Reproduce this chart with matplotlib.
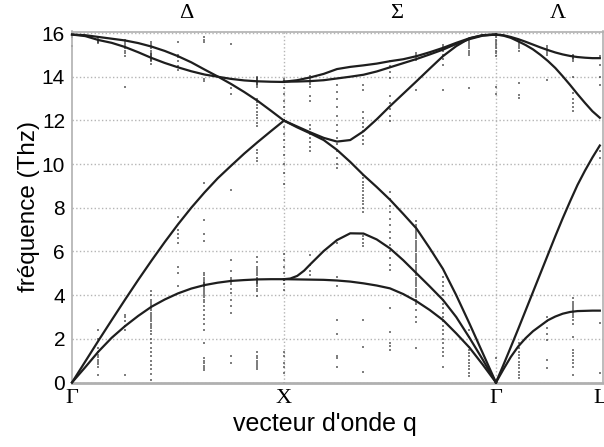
import matplotlib
matplotlib.use("Agg")
import matplotlib.pyplot as plt

# path positions (reduced units, Gamma-X-Gamma-L)
sym_pos = [0.0, 1.0, 2.0, 2.49]
sym_labels = ["Γ", "X", "Γ", "L"]
dir_pos = [0.54, 1.53, 2.29]
dir_labels = ["Δ", "Σ", "Λ"]

# Delta branch (Gamma -> X)
d_q = [0, 0.0625, 0.125, 0.1875, 0.25, 0.3125, 0.375, 0.4375, 0.5,
       0.5625, 0.625, 0.6875, 0.75, 0.8125, 0.875, 0.9375, 1.0]
d_ta = [0, 0.7, 1.42, 2.05, 2.58, 3.05, 3.47, 3.8, 4.08,
        4.3, 4.46, 4.57, 4.65, 4.69, 4.72, 4.73, 4.73]
d_la = [0, 0.96, 1.92, 2.86, 3.79, 4.7, 5.58, 6.43, 7.24,
        8.0, 8.7, 9.35, 9.92, 10.48, 11.0, 11.5, 11.99]
d_lo = [15.93, 15.9, 15.82, 15.74, 15.66, 15.54, 15.38, 15.18, 14.94,
        14.66, 14.33, 14.01, 13.67, 13.3, 12.9, 12.45, 11.99]
d_to = [15.93, 15.86, 15.68, 15.55, 15.36, 15.12, 14.86, 14.63, 14.43,
        14.25, 14.1, 14.0, 13.9, 13.83, 13.79, 13.77, 13.76]

# Sigma branch (X -> Gamma)
s_q = [1.0, 1.0625, 1.125, 1.1875, 1.25, 1.3125, 1.375, 1.4375, 1.5,
       1.5625, 1.625, 1.6875, 1.75, 1.8125, 1.875, 1.9375, 2.0]
s_ta1 = [4.73, 4.72, 4.71, 4.7, 4.67, 4.62, 4.54, 4.44, 4.31,
         4.05, 3.72, 3.32, 2.86, 2.25, 1.6, 0.82, 0]
s_ta2_q = [1.0, 1.03, 1.0625, 1.095, 1.125, 1.1875, 1.25, 1.3125, 1.375,
           1.4375, 1.5, 1.5625, 1.625, 1.6875, 1.75, 1.8125, 1.875,
           1.9375, 2.0]
s_ta2 = [4.73, 4.76, 4.88, 5.12, 5.42, 6.02, 6.52, 6.83, 6.82,
         6.55, 6.14, 5.6, 5.0, 4.4, 3.78, 3.0, 2.05, 1.05, 0]
s_la = [11.99, 11.68, 11.4, 11.1, 10.65, 10.1, 9.5, 8.95, 8.37,
        7.72, 7.05, 6.15, 5.2, 4.0, 2.7, 1.35, 0]
s_op = [11.99, 11.72, 11.45, 11.2, 11.03, 11.1, 11.5, 12.05, 12.65,
        13.22, 13.79, 14.37, 14.94, 15.4, 15.76, 15.9, 15.93]
s_to1 = [13.77, 13.84, 13.97, 14.13, 14.35, 14.45, 14.52, 14.6, 14.71,
         14.8, 14.94, 15.12, 15.32, 15.55, 15.76, 15.9, 15.93]
s_to2 = [13.77, 13.78, 13.8, 13.84, 13.92, 14.0, 14.09, 14.24, 14.43,
         14.62, 14.81, 15.02, 15.24, 15.5, 15.72, 15.88, 15.93]

# Lambda branch (Gamma -> L)
l_q = [2.0, 2.035, 2.07, 2.105, 2.14, 2.175, 2.21, 2.245, 2.28,
       2.315, 2.35, 2.385, 2.42, 2.455, 2.49]
l_ta = [0, 0.6, 1.17, 1.65, 2.03, 2.35, 2.6, 2.85, 3.02,
        3.15, 3.23, 3.27, 3.28, 3.29, 3.29]
l_la = [0, 0.8, 1.62, 2.45, 3.3, 4.15, 5.0, 5.85, 6.7,
        7.52, 8.3, 9.05, 9.7, 10.3, 10.85]
l_lo = [15.93, 15.88, 15.78, 15.62, 15.45, 15.25, 15.0, 14.72, 14.4,
        14.02, 13.62, 13.2, 12.8, 12.42, 12.12]
l_to = [15.93, 15.9, 15.82, 15.72, 15.6, 15.47, 15.34, 15.22, 15.11,
        15.02, 14.95, 14.9, 14.87, 14.85, 14.85]

# measured peaks (scan positions and frequencies found there)
scan_q = [0.0, 0.125, 0.25, 0.375, 0.5, 0.625, 0.75, 0.875, 1.0,
          1.125, 1.25, 1.375, 1.5, 1.625, 1.75, 1.875, 2.0,
          2.11, 2.24, 2.365, 2.49]
scan_f = [
    [15.4, 15.8],
    [0.35, 0.7, 0.85, 0.95, 1.05, 1.15, 1.25, 1.4, 1.6, 2.0, 2.4,
     15.55, 15.6, 15.65, 15.7, 15.75],
    [0.35, 2.4, 2.6, 2.8, 3.0, 3.1, 13.55,
     14.95, 15.1, 15.2, 15.3, 15.4, 15.5, 15.6, 15.7],
    [0.1, 0.4, 0.6, 0.8, 1.0, 1.2, 1.4, 1.6, 1.8, 2.0, 2.2, 2.35, 2.5, 2.6,
     2.7, 2.8, 2.9, 3.0, 3.1, 3.2, 3.3, 3.4, 3.5, 3.6, 3.7, 3.8, 4.0, 4.2,
     14.6, 14.7, 14.75, 14.8, 14.85, 14.9, 14.95, 15.0, 15.05, 15.1, 15.2,
     15.3, 15.4, 15.5, 15.6],
    [4.4, 5.0, 5.3, 6.4, 6.6, 6.8, 7.0, 7.6, 14.3, 14.5, 14.7, 14.9, 15.0, 15.6],
    [0.55, 0.65, 0.75, 0.9, 1.0, 1.1, 1.8, 2.4, 2.7, 2.9, 3.1, 3.3, 3.5,
     3.7, 3.8, 3.9, 4.0, 4.1, 4.2, 4.3, 4.35, 4.4, 4.45, 4.5, 4.55, 4.6,
     4.7, 4.8, 4.9, 5.0, 6.5, 6.8, 7.44, 9.12, 13.8, 13.9, 15.6, 15.7, 15.8],
    [0.9, 1.2, 3.2, 3.5, 3.8, 4.1, 4.3, 4.5, 4.6, 4.7, 4.8, 5.1, 5.6, 8.8,
     13.2, 13.5, 15.5],
    [0.6, 0.7, 0.8, 0.9, 1.0, 1.1, 1.2, 1.4, 3.95, 4.2, 4.3, 4.4, 4.5,
     4.55, 4.6, 4.65, 4.7, 4.75, 4.8, 4.9, 5.0, 5.1, 5.2, 5.3, 5.5, 5.75,
     10.15, 10.3, 10.5, 10.65, 11.75, 11.9, 12.1, 12.25, 12.4, 12.55, 12.7,
     12.85, 13.0, 13.55, 13.6, 13.65, 13.7, 13.75, 13.8, 13.85, 13.9, 13.95,
     14.0],
    [0.0, 0.45, 0.7, 0.9, 1.2, 1.4, 4.25, 4.5, 4.7, 5.0, 5.3, 5.6, 5.9,
     9.1, 9.6, 10.0, 10.4, 10.8, 11.1, 11.4, 11.7, 12.0, 12.3, 12.6, 12.9,
     13.2, 13.5, 13.8, 13.9],
    [4.9, 5.1, 5.4, 5.85, 10.6, 10.8, 11.0, 11.2, 11.4, 11.6, 11.8, 12.9,
     13.1, 13.55, 13.65, 13.75, 13.85, 13.95, 14.05],
    [0.72, 1.1, 1.2, 2.2, 2.86, 4.4, 4.85, 6.4, 9.8, 10.0, 10.3, 10.6,
     10.9, 11.2, 11.5, 11.8, 12.2, 12.6, 13.0, 13.3, 13.6],
    [0.5, 1.64, 2.86, 6.25, 6.4, 6.55, 6.7, 7.8, 8.0, 8.15, 8.3, 8.45, 8.6,
     8.75, 8.9, 9.05, 9.2, 9.35, 9.5, 10.9, 11.1, 11.3, 11.5, 11.7, 11.9,
     12.1, 12.4, 13.4, 13.6],
    [1.5, 1.65, 1.8, 2.33, 3.4, 5.15, 5.4, 5.7, 6.0, 6.3, 6.6, 6.9, 7.2,
     7.5, 7.8, 8.1, 8.4, 8.7, 11.95, 12.2, 12.5, 12.8, 13.1, 13.95, 14.2,
     14.5, 14.7],
    [1.58, 2.75, 3.0, 3.3, 3.6, 3.7, 3.8, 3.9, 4.0, 4.1, 4.2, 4.3, 4.4, 4.5,
     4.6, 4.7, 4.8, 4.9, 5.0, 5.1, 5.2, 5.3, 5.4, 5.5, 5.6, 5.7, 5.8, 5.9,
     6.0, 6.1, 6.2, 6.3, 6.4, 6.5, 6.6, 6.7, 6.8, 6.9, 7.0, 7.1, 7.2, 7.4,
     13.4, 14.78, 14.9, 15.0, 15.09],
    [0.72, 1.2, 1.4, 1.6, 1.8, 2.0, 2.2, 2.4, 2.6, 2.8, 3.0, 3.2, 3.4, 3.6,
     3.8, 4.0, 4.2, 4.4, 4.6, 4.84, 13.4, 14.55, 14.8, 15.0, 15.2, 15.35,
     15.47],
    [0.3, 0.45, 0.6, 0.75, 0.9, 1.05, 1.2, 1.35, 1.5, 1.64, 2.1, 2.4, 13.5,
     15.0, 15.1, 15.2, 15.3, 15.4, 15.5, 15.6, 15.7],
    [1.1, 13.2, 13.55, 14.95, 15.1, 15.2, 15.3, 15.4, 15.5, 15.6, 15.7,
     15.8, 15.9],
    [0.2, 0.35, 0.5, 0.65, 0.8, 0.95, 1.1, 1.25, 1.4, 1.6, 1.8, 13.02,
     13.18, 13.7, 15.2, 15.3, 15.4, 15.5, 15.6, 15.7],
    [0.66, 1.03, 1.95, 2.2, 2.5, 2.8, 3.0, 13.86, 15.0, 15.1, 15.2, 15.3,
     15.4],
    [0.34, 0.72, 0.9, 1.05, 1.2, 1.35, 1.49, 2.1, 2.7, 2.85, 3.0, 3.1, 3.2,
     3.3, 3.4, 3.5, 3.6, 3.7, 3.85, 12.45, 12.6, 12.8, 13.0, 13.25, 14.0,
     14.7, 14.8, 14.85, 14.9, 14.95, 15.0],
    [0.43, 2.72, 10.3, 10.6, 13.6, 14.0, 14.55, 14.94],
]

fig = plt.figure(figsize=(6.04, 4.47), dpi=100)
ax = fig.add_axes([72 / 604, 64.5 / 447, 531 / 604, 351 / 447])

# measured points
for q, freqs in zip(scan_q, scan_f):
    ax.plot([q] * len(freqs), freqs, linestyle="none", marker="s",
            markersize=1.9, markeredgewidth=0, color="#2a2a2a", alpha=0.6,
            clip_on=False, zorder=2)

# calculated dispersion
curve_kw = dict(color="#1e1e1e", lw=1.6, zorder=3, clip_on=False,
                solid_joinstyle="round")
for band in (d_ta, d_la, d_lo, d_to):
    ax.plot(d_q, band, **curve_kw)
for band in (s_ta1, s_la, s_op, s_to1, s_to2):
    ax.plot(s_q, band, **curve_kw)
ax.plot(s_ta2_q, s_ta2, **curve_kw)
for band in (l_ta, l_la, l_lo, l_to):
    ax.plot(l_q, band, **curve_kw)

ax.set_xlim(0, 2.505)
ax.set_ylim(0, 16.07)
ax.set_yticks(range(0, 17, 2))
ax.set_xticks(sym_pos)
ax.set_xticklabels(sym_labels, fontfamily="Liberation Serif", fontsize=16)
ax.tick_params(axis="both", length=0, pad=5)
ax.tick_params(axis="y", labelsize=15)
for lab in ax.get_yticklabels():
    lab.set_fontfamily("Liberation Sans")

ax.grid(axis="y", linestyle=":", color="#b5b5b5", lw=1.0, zorder=0)
for q in sym_pos[1:3]:
    ax.axvline(q, linestyle=":", color="#b5b5b5", lw=1.0, zorder=0)

for side in ("left", "right", "top", "bottom"):
    ax.spines[side].set_color("#b0b0b0")
    ax.spines[side].set_linewidth(1.2)
ax.spines["bottom"].set_linewidth(2.0)

for q, lab in zip(dir_pos, dir_labels):
    ax.text(q, 1.05, lab, transform=ax.get_xaxis_transform(), ha="center",
            va="center", fontsize=16, fontfamily="Liberation Serif")

ax.set_xlabel("vecteur d'onde q", fontsize=18, fontfamily="Liberation Sans")
ax.xaxis.set_label_coords(0.476, -0.085)
ax.set_ylabel("fréquence (Thz)", fontsize=17.5, fontfamily="Liberation Sans")
ax.yaxis.set_label_coords(-0.06, 0.5)

fig.savefig("out.png", dpi=100)
